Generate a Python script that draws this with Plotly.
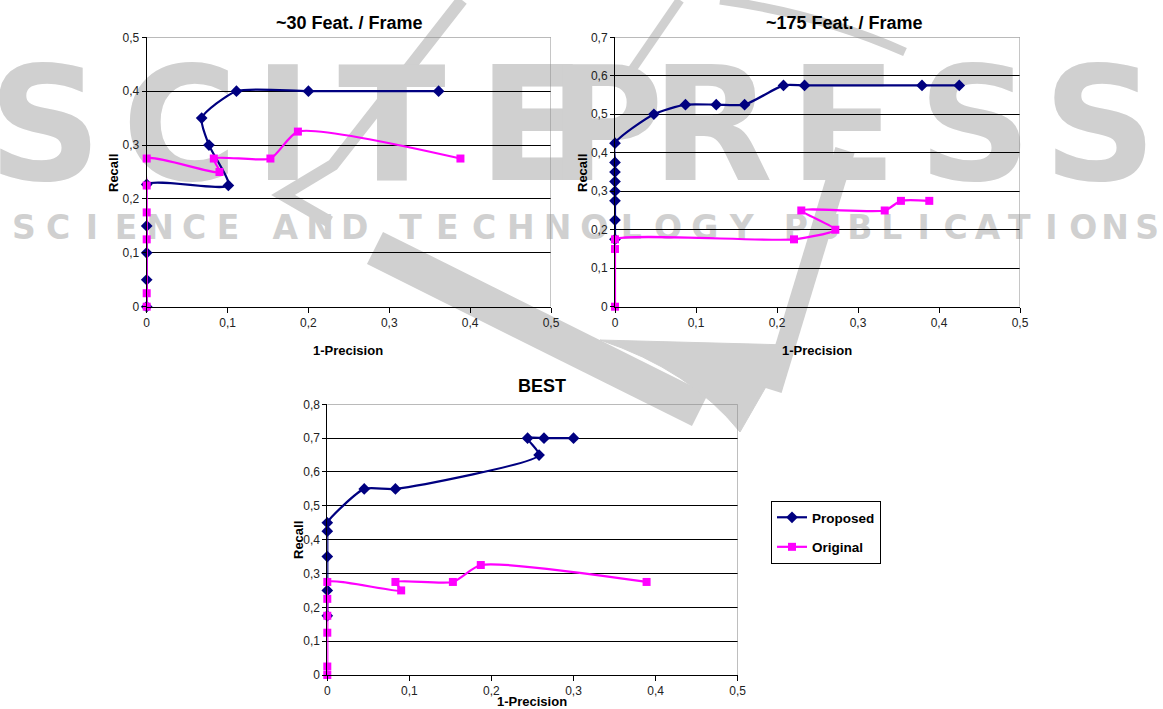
import plotly.graph_objects as go

W, H = 1163, 709

# ---------------- data ----------------
tl_prop_x = [0, 0, 0, 0, 0, 0.101, 0.077, 0.068, 0.111, 0.2, 0.361]
tl_prop_y = [0, 0.05, 0.1, 0.15, 0.227, 0.225, 0.3, 0.35, 0.4, 0.4, 0.4]
tl_orig_x = [0, 0, 0, 0, 0, 0, 0.09, 0.083, 0.153, 0.187, 0.388]
tl_orig_y = [0, 0.025, 0.125, 0.175, 0.225, 0.275, 0.25, 0.275, 0.275, 0.325, 0.275]

tr_prop_x = [0, 0, 0, 0, 0, 0, 0, 0, 0.048, 0.087, 0.125, 0.16, 0.208, 0.234, 0.379, 0.425]
tr_prop_y = [0.175, 0.225, 0.275, 0.3, 0.325, 0.35, 0.375, 0.425, 0.5, 0.525, 0.525, 0.525,
             0.575, 0.575, 0.575, 0.575]
tr_orig_x = [0, 0, 0, 0.221, 0.272, 0.23, 0.333, 0.353, 0.388]
tr_orig_y = [0, 0.15, 0.175, 0.175, 0.2, 0.25, 0.25, 0.275, 0.275]

best_prop_x = [0, 0, 0, 0, 0, 0.045, 0.083, 0.258, 0.244, 0.264, 0.3]
best_prop_y = [0.175, 0.25, 0.35, 0.425, 0.45, 0.55, 0.55, 0.65, 0.7, 0.7, 0.7]
best_orig_x = [0, 0, 0, 0, 0, 0, 0.09, 0.083, 0.153, 0.187, 0.389]
best_orig_y = [0, 0.025, 0.125, 0.175, 0.225, 0.275, 0.25, 0.275, 0.275, 0.325, 0.275]

series_names = ["Proposed", "Original"]
titles = ["~30 Feat. / Frame", "~175 Feat. / Frame", "BEST"]
x_title = "1-Precision"
y_title = "Recall"
y_max = [0.5, 0.7, 0.8]

# watermark text (background of the source page)
wm_big = "SCITEPRESS"
wm_small_words = ["SCIENCE", "AND", "TECHNOLOGY", "PUBLICATIONS"]

# ---------------- styling ----------------
NAVY = "#000080"
MAGENTA = "#FF00FF"
WM = "#d0d0d0"
FONT = "Liberation Sans"
SMOOTH = 0.6

fig = go.Figure()

# ---- watermark layer on a full-page pixel subplot (drawn first, below charts)
big_cx = [45, 180, 283, 392, 532, 606, 712, 843, 975, 1100]
fig.add_trace(go.Scatter(
    x=big_cx, y=[140] * len(wm_big), text=list(wm_big), mode="text",
    textfont=dict(family="DejaVu Sans", size=158, color=WM, weight="bold"),
    xaxis="x", yaxis="y", showlegend=False, hoverinfo="skip"))
spans = [(7, 245), (268, 372), (392, 760), (780, 1163)]
sx, sy, st = [], [], []
for word, (a, b) in zip(wm_small_words, spans):
    n = len(word)
    for i, ch in enumerate(word):
        sx.append(a + (i + 0.5) * (b - a) / n)
        sy.append(231)
        st.append(ch)
fig.add_trace(go.Scatter(
    x=sx, y=sy, text=st, mode="text",
    textfont=dict(family="DejaVu Sans", size=33, color=WM, weight="bold"),
    xaxis="x", yaxis="y", showlegend=False, hoverinfo="skip"))

# ---- chart traces
datasets = [
    (tl_prop_x, tl_prop_y, tl_orig_x, tl_orig_y),
    (tr_prop_x, tr_prop_y, tr_orig_x, tr_orig_y),
    (best_prop_x, best_prop_y, best_orig_x, best_orig_y),
]
for k, (px_, py_, ox_, oy_) in enumerate(datasets):
    xa, ya = f"x{k + 2}", f"y{k + 2}"
    fig.add_trace(go.Scatter(
        x=px_, y=py_, name=series_names[0], mode="lines+markers",
        line=dict(color=NAVY, width=2.2, shape="spline", smoothing=SMOOTH),
        marker=dict(symbol="diamond", size=9, color=NAVY),
        xaxis=xa, yaxis=ya, cliponaxis=False, legendgroup="p",
        showlegend=(k == 2)))
    fig.add_trace(go.Scatter(
        x=ox_, y=oy_, name=series_names[1], mode="lines+markers",
        line=dict(color=MAGENTA, width=2.2, shape="spline", smoothing=SMOOTH),
        marker=dict(symbol="square", size=8, color=MAGENTA),
        xaxis=xa, yaxis=ya, cliponaxis=False, legendgroup="o",
        showlegend=(k == 2)))

# ---- plot-area pixel boxes (left, right, top, bottom)
boxes = [(146.7, 551.0, 37.3, 306.7), (615.0, 1020.0, 37.3, 306.7), (327.3, 737.7, 404.3, 675.0)]

layout = dict(
    width=W, height=H, margin=dict(l=0, r=0, t=0, b=0, pad=0, autoexpand=False),
    paper_bgcolor="white", plot_bgcolor="rgba(0,0,0,0)",
    separators=", ",
    showlegend=True,
    xaxis=dict(domain=[0, 1], range=[0, W], visible=False, fixedrange=True),
    yaxis=dict(domain=[0, 1], range=[H, 0], visible=False, fixedrange=True),
    legend=dict(x=771 / W, y=1 - 501 / H, xanchor="left", yanchor="top",
                bgcolor="white", bordercolor="black", borderwidth=1,
                font=dict(family=FONT, size=13.5, color="black", weight="bold"),
                traceorder="grouped", tracegroupgap=9, itemwidth=30),
)

tickfont = dict(family=FONT, size=12, color="#222222")
shapes = []
for k, (l, r, t, b) in enumerate(boxes):
    n = k + 2
    layout[f"xaxis{n}"] = dict(
        domain=[l / W, r / W], anchor=f"y{n}", range=[0, 0.5], tick0=0, dtick=0.1,
        showgrid=False, zeroline=False, showline=True, linecolor="black", linewidth=1,
        ticks="outside", ticklen=5, tickcolor="black", tickfont=tickfont, fixedrange=True)
    layout[f"yaxis{n}"] = dict(
        domain=[1 - b / H, 1 - t / H], anchor=f"x{n}", range=[0, y_max[k]], tick0=0, dtick=0.1,
        showgrid=True, gridcolor="black", gridwidth=1, zeroline=False,
        showline=True, linecolor="black", linewidth=1,
        ticks="outside", ticklen=4, tickcolor="black", tickfont=tickfont, fixedrange=True)
    shapes.append(dict(type="path", xref=f"x{n}", yref=f"y{n}", layer="above",
                       path=f"M 0,{y_max[k]} L 0.5,{y_max[k]} L 0.5,0",
                       line=dict(color="#8c8c8c", width=1)))

# watermark swoosh (pixel coords on the background subplot)
shapes += [
    dict(type="path", xref="x", yref="y", layer="below",
         path="M 462,0 L 333,165 L 283,195 L 330,222", line=dict(color=WM, width=12)),
    dict(type="path", xref="x", yref="y", layer="below",
         path="M 375,248 L 700,410", line=dict(color=WM, width=36)),
    dict(type="path", xref="x", yref="y", layer="below",
         path="M 600,340 Q 690,370 740,432 L 790,345 Z",
         fillcolor=WM, line=dict(color=WM, width=1)),
    dict(type="path", xref="x", yref="y", layer="below",
         path="M 845,150 L 772,390", line=dict(color=WM, width=20)),
    dict(type="path", xref="x", yref="y", layer="below",
         path="M 680,0 L 625,80", line=dict(color=WM, width=9)),
    dict(type="path", xref="x", yref="y", layer="below",
         path="M 720,0 Q 820,14 905,52", line=dict(color=WM, width=9)),
]
layout["shapes"] = shapes


def ann(text, x, y, size, angle=0):
    return dict(text=text, x=x / W, y=1 - y / H, xref="paper", yref="paper",
                xanchor="center", yanchor="middle", showarrow=False, textangle=angle,
                font=dict(family=FONT, size=size, color="black", weight="bold"))


layout["annotations"] = [
    ann(titles[0], 349, 23, 18), ann(titles[1], 844, 23, 18), ann(titles[2], 542, 386, 18),
    ann(x_title, 348, 350, 13), ann(x_title, 817, 350, 13), ann(x_title, 532, 701, 13),
    ann(y_title, 113, 173, 13, -90), ann(y_title, 582, 173, 13, -90), ann(y_title, 298, 540, 13, -90),
]

fig.update_layout(**layout)
fig.write_html(
    "out.html",
    config={"displayModeBar": False},
    post_script="document.documentElement.style.margin='0';"
                "document.body.style.margin='0';document.body.style.padding='0';"
                "document.body.style.overflow='hidden';",
)
